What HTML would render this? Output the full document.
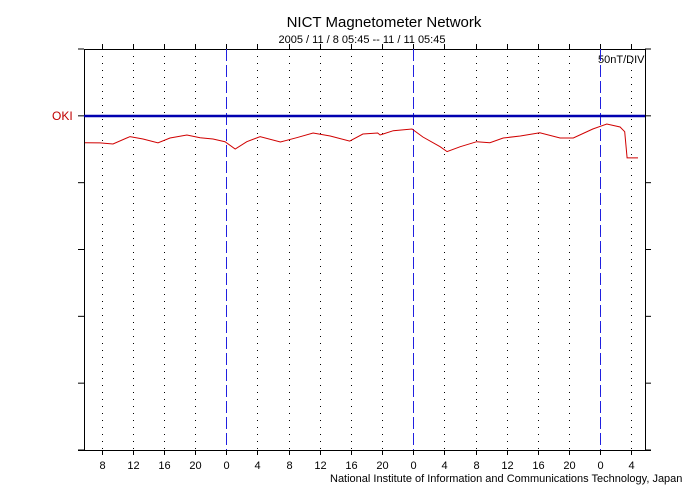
<!DOCTYPE html>
<html><head><meta charset="utf-8"><style>
body{margin:0;background:#fff;}
svg{display:block;font-family:"Liberation Sans",sans-serif;}
</style></head><body>
<svg id="c" width="700" height="500">
<text x="384" y="27" text-anchor="middle" font-size="15">NICT Magnetometer Network</text>
<text x="362" y="43" text-anchor="middle" font-size="11">2005 / 11 / 8   05:45 -- 11 / 11   05:45</text>
<text x="52" y="120" font-size="12" fill="#c00000">OKI</text>
<text x="598" y="63" font-size="11">50nT/DIV</text>
<text x="330" y="482" font-size="11">National Institute of Information and Communications Technology, Japan</text>
<g id="grid"></g><g id="days"></g><g id="plot"></g>
</svg>
<script>
const tickHours=[8,12,16,20,0,4,8,12,16,20,0,4,8,12,16,20,0,4];
const seriesT=[0.13,2.05,3.72,5.9,7.57,9.5,11.04,13.2,14.9,16.56,18.1,19.4,20.9,22.6,25.2,27.3,29.4,31.6,34.1,35.8,37.7,38.0,39.7,42.1,43.5,45.7,46.6,48.3,50.4,52.1,53.8,56.0,58.5,61.1,62.8,65.3,67.1,68.8,69.4,69.7,71.1];
const seriesV=[-19.9,-20.1,-20.9,-15.4,-17.2,-20.1,-16.4,-14.2,-16.2,-17.2,-19.2,-24.6,-19.2,-15.4,-19.4,-16.2,-12.7,-14.9,-18.7,-13.4,-12.7,-14.2,-11.0,-9.7,-15.7,-22.9,-26.6,-22.9,-19.2,-19.9,-16.4,-14.9,-12.5,-16.4,-16.4,-9.7,-6.0,-8.2,-11.7,-31.3,-31.3];
const L=84,R=645,T=49,B=450,base=116;
const xS=t=>L+t*187/24, yS=v=>base-v*67/50;
const NS='http://www.w3.org/2000/svg';
const g=document.getElementById('grid'),d=document.getElementById('days'),p=document.getElementById('plot');
function mk(par,tag,a){const e=document.createElementNS(NS,tag);for(const k in a)e.setAttribute(k,a[k]);par.appendChild(e);return e;}
for(let i=0;i<=6;i++){const y=T+i*(B-T)/6;
 const t1=mk(g,'line',{x1:78,x2:L,y1:y,y2:y,stroke:'#000'});
 
 
 const t2=mk(g,'line',{x1:R,x2:651,y1:y,y2:y,stroke:'#000'});
 
 
}
mk(g,'line',{x1:78,x2:651,y1:B+0.5,y2:B+0.5,stroke:'#000'});
mk(g,'line',{x1:L,x2:R,y1:T+0.5,y2:T+0.5,stroke:'#000'});
mk(g,'line',{x1:L+0.5,x2:L+0.5,y1:T,y2:B,stroke:'#000'});
mk(g,'line',{x1:R+0.5,x2:R+0.5,y1:T,y2:B,stroke:'#000'});
tickHours.forEach((h,i)=>{const t=2.25+i*4;const x=Math.round(xS(t))+0.5;
 const isDay=h===0;
 const v=mk(isDay?d:g,'line',{x1:x,x2:x,y1:T,y2:B,stroke:isDay?'#2020e0':'#000','stroke-width':1,'stroke-dasharray':isDay?'12,4':'1,6'});
 
 
 mk(g,'line',{x1:x,x2:x,y1:T-5,y2:T,stroke:'#000'});
 mk(g,'line',{x1:x,x2:x,y1:B,y2:B+5,stroke:'#000'});
 const tx=mk(g,'text',{x:x,y:469,'text-anchor':'middle','font-size':11});tx.textContent=h;
 
 
});
const bl=mk(p,'line',{x1:L,x2:R,y1:base,y2:base,stroke:'#0000b0','stroke-width':2.5});


const pts=seriesT.map((t,i)=>xS(t).toFixed(1)+','+yS(seriesV[i]).toFixed(1)).join(' ');
const pl=mk(p,'polyline',{points:pts,fill:'none',stroke:'#d00000','stroke-width':1});


</script>
</body></html>
